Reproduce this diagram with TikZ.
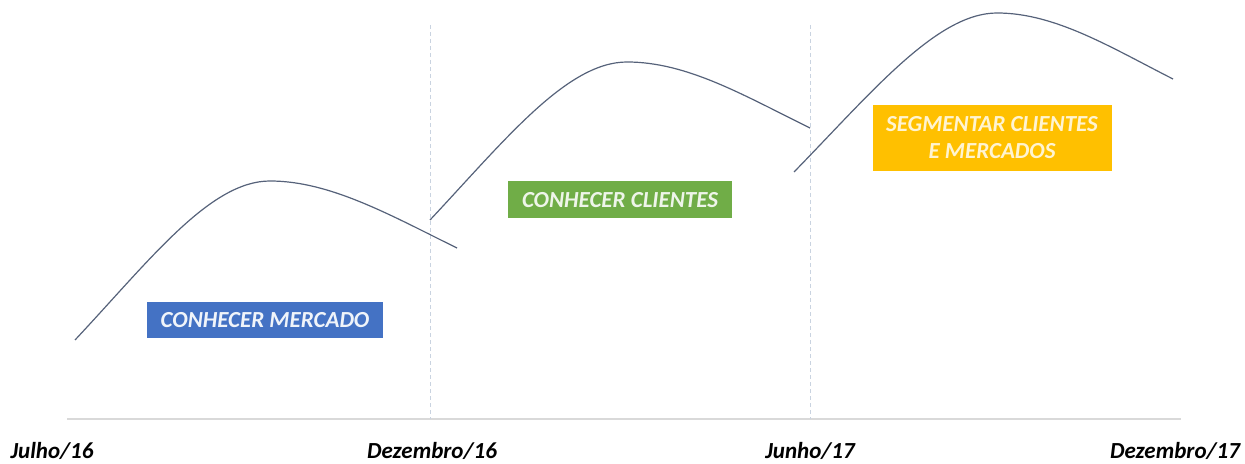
\documentclass[tikz,border=0pt]{standalone}
\usepackage{fontspec}
\setmainfont{Carlito}
\usetikzlibrary{positioning}

\definecolor{curvecol}{HTML}{56627A}
\definecolor{axiscol}{HTML}{D9D9D9}
\definecolor{gridcol}{HTML}{C9D3E0}
\definecolor{mercadocol}{HTML}{4472C4}
\definecolor{clientescol}{HTML}{70AD47}
\definecolor{segmentcol}{HTML}{FFC000}

\tikzset{
  phase/.style={inner sep=0pt, align=center,
    font=\fontsize{11.5}{13.5}\selectfont\bfseries\itshape},
  datelabel/.style={anchor=base, font=\fontsize{11.5}{13}\selectfont\bfseries\itshape},
  lifecurve/.style={curvecol, line width=.6pt},
  divider/.style={gridcol, line width=.5pt, dash pattern=on 2pt off 1.5pt}
}

\begin{document}
\begin{tikzpicture}[x=.5pt,y=-.5pt]
\useasboundingbox (0,0) rectangle (1245,464);

% time axis and the two period dividers
\coordinate (ax0) at (67,419);
\coordinate (ax1) at (1181,419);
\coordinate (d1) at (430,25);
\coordinate (d2) at (810,25);
\draw[axiscol, line width=.75pt] (ax0) -- (ax1);
\draw[divider] (d1) -- (d1 |- ax0);
\draw[divider] (d2) -- (d2 |- ax0);

% dates under the axis
\node (jul16) [datelabel] at (52,458) {Julho/16};
\node (dez16) [datelabel] at (432,458) {Dezembro/16};
\node (jun17) [datelabel] at (810,458) {Junho/17};
\node (dez17) [datelabel] at (1175,458) {Dezembro/17};

% one growth curve per phase
\draw[lifecurve] (75,340) .. controls +(75,-80) and +(-60,0) .. (270,181)
    .. controls +(60,0) and +(-67,-33) .. (457,248);
\draw[lifecurve] (430,220) .. controls +(75,-80) and +(-60,0) .. (627,62)
    .. controls +(60,0) and +(-67,-33) .. (810,128);
\draw[lifecurve] (794,172) .. controls +(78,-80) and +(-60,0) .. (997,13)
    .. controls +(58,0) and +(-63,-32) .. (1173,79);

% phase boxes
\node (mercado) [phase, fill=mercadocol, text=white!92!mercadocol,
    minimum width=118pt, minimum height=18pt] at (265,320) {CONHECER MERCADO};
\node (clientes) [phase, fill=clientescol, text=white!88!clientescol,
    minimum width=112pt, minimum height=18.5pt] at (620,200) {CONHECER CLIENTES};
\node (segmentar) [phase, fill=segmentcol, text=white!82!segmentcol,
    minimum width=119.5pt, minimum height=33pt] at (992,138)
    {SEGMENTAR CLIENTES\\E MERCADOS};

\end{tikzpicture}
\end{document}
